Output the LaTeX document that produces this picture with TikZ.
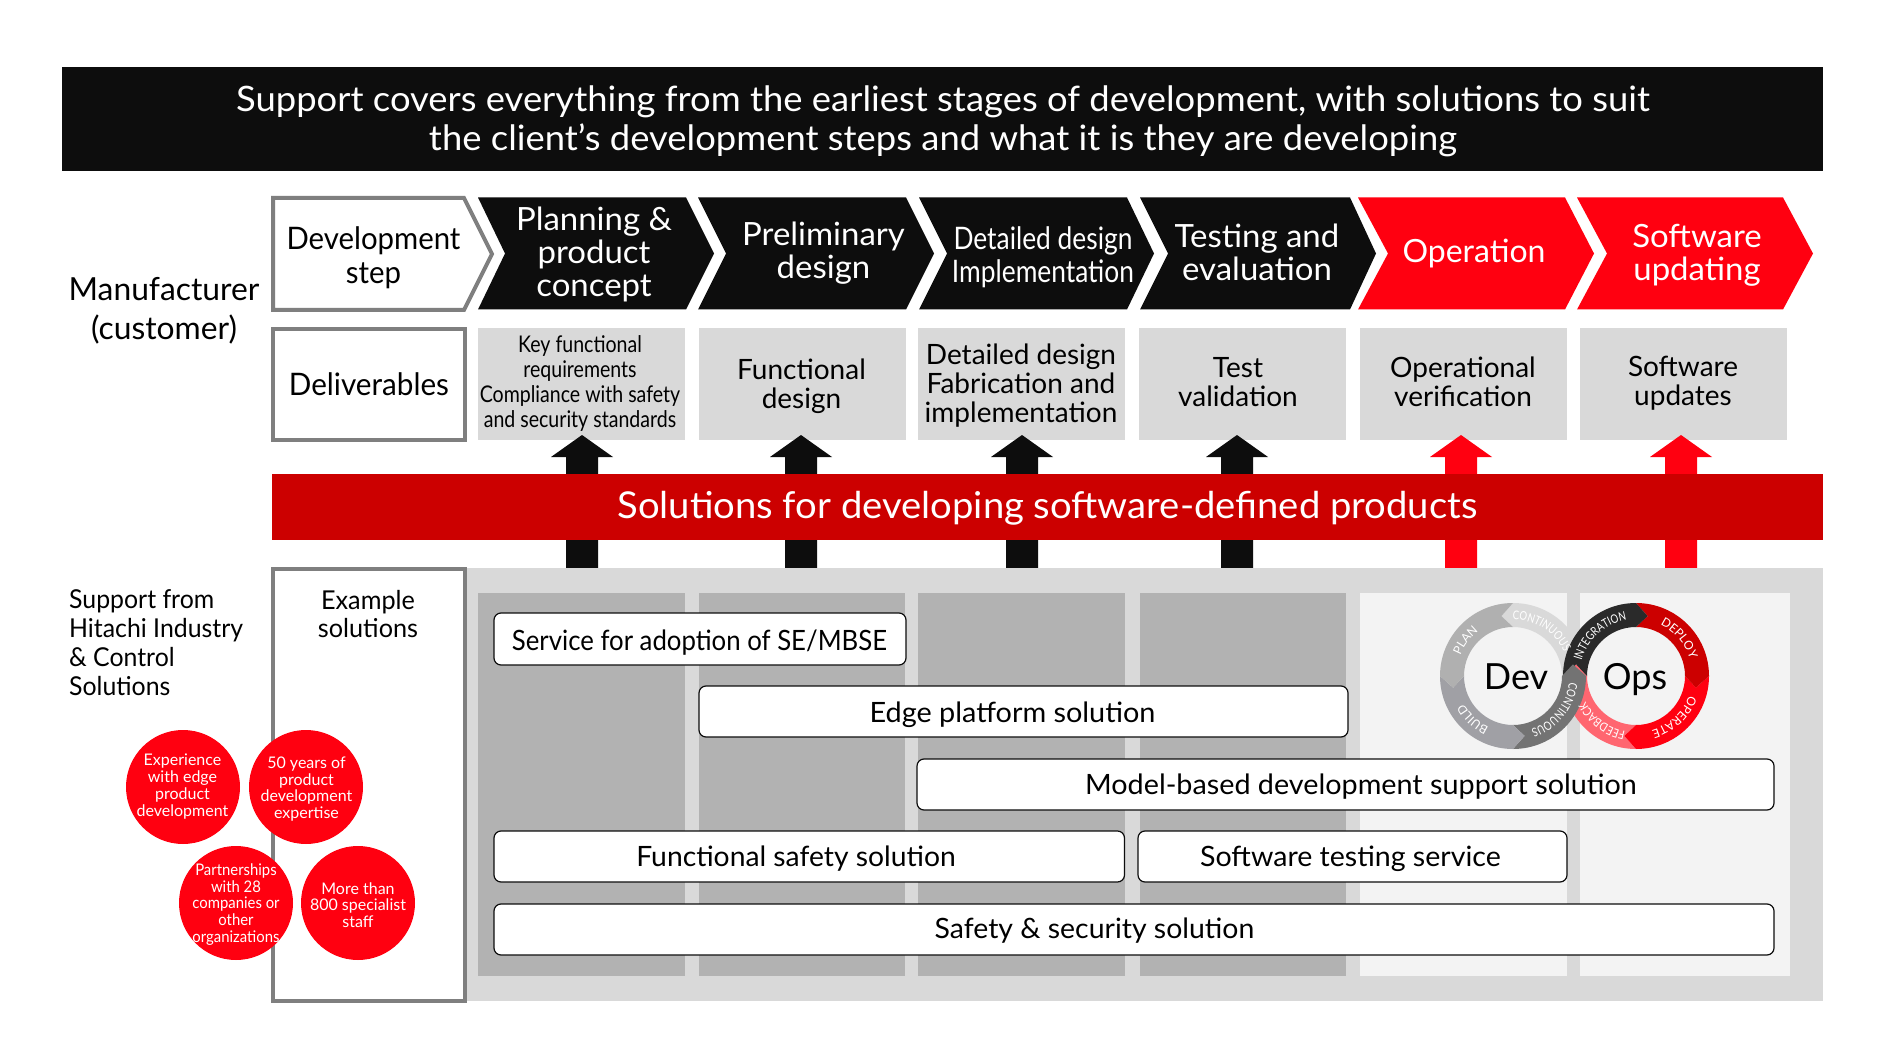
\documentclass[tikz,border=0pt]{standalone}
\usepackage{fontspec}
\usetikzlibrary{decorations.text,calc}
\setmainfont{Lato}
\definecolor{hred}{HTML}{FF0010}
\definecolor{dred}{HTML}{CC0000}
\definecolor{hblack}{HTML}{0D0D0D}
\definecolor{hgray}{HTML}{D9D9D9}
\definecolor{hdark}{HTML}{B2B2B2}
\definecolor{hlight}{HTML}{F3F3F3}
\definecolor{hedge}{HTML}{7F7F7F}
\definecolor{rfeed}{HTML}{FF6670}
\definecolor{rinteg}{HTML}{2A2A2A}
\definecolor{rcont}{HTML}{737373}
\definecolor{rbuild}{HTML}{A0A0A5}
\definecolor{rplan}{HTML}{B0B0B0}
\newcommand{\fs}[2]{\fontsize{#1}{#2}\selectfont}
\newcommand{\fx}[3]{\addfontfeature{FakeStretch=#1}\fontsize{#2}{#3}\selectfont}
\newcommand{\ringseg}[6]{% cx cy a b delta colour
  \fill[#6] ($(#1,#2)+(#3:73)$) arc[start angle=#3,end angle=#4,radius=73]
    -- ($(#1,#2)+({#4+#5}:61)$) -- ($(#1,#2)+(#4:49)$)
    arc[start angle=#4,end angle=#3,radius=49]
    -- ($(#1,#2)+({#3+#5}:61)$) -- cycle;}
\newcommand{\ringtext}[5]{% cx cy centre stretch text
  \path[decorate,decoration={text along path,text align=center,
    text={|\fx{#4}{12}{13}\color{white}|#5}}]
    ($(#1,#2)+({#3+50}:56.5)$) arc[start angle={#3+50},end angle={#3-50},radius=56.5];}
\tikzset{
  x=1pt,y=1pt,
  chevtext/.style={align=center,text=white,font=\fx{1.03}{32}{33},inner sep=0pt},
  delivbox/.style={fill=hgray,draw=none,minimum height=112pt,minimum width=207pt,inner sep=0pt},
  delivtext/.style={align=center,text=black,font=\fs{28}{29},inner sep=0pt},
  soltext/.style={inner sep=0pt,text=black},
  framebox/.style={draw=hedge,line width=4pt,fill=white,align=center},
  badge/.style={circle,fill=hred,minimum size=114pt,inner sep=0pt},
  badgetext/.style={text=white,align=center,inner sep=0pt,font=\fs{16}{16.8}},
}
\newcommand{\solbox}[4]{\draw[draw=hblack,line width=1.2pt,fill=white,rounded corners=7pt] (#1,-#3) rectangle (#2,-#4);}
\newcommand{\chev}[5]{% left notchtip shoulder tip colour
  \path[fill=#5] (#1,-197.5) -- (#3,-197.5) -- (#4,-253.5) -- (#3,-309.5) -- (#1,-309.5) -- (#2,-253.5) -- cycle;}
\newcommand{\blockarrow}[2]{% x colour
  \fill[#2] ({#1-16},-568) -- ({#1-16},-457) -- ({#1-31},-457) -- (#1,-435) -- ({#1+31},-457) -- ({#1+16},-457) -- ({#1+16},-568) -- cycle;}
\begin{document}
\begin{tikzpicture}
\useasboundingbox (0,0) rectangle (1890,-1064);
\fill[white] (0,0) rectangle (1890,-1064);
% banner
\fill[hblack] (62,-67) rectangle (1823,-171.5);
\node[text=white,align=center,font=\fx{1.04}{35}{39},inner sep=0pt] (banner) at (943,-121)
  {Support covers everything from the earliest stages of development, with solutions to suit\\the client’s development steps and what it is they are developing};
% chevrons
\draw[framebox] (273,-198) -- (464,-198) -- (492,-254) -- (464,-310) -- (273,-310) -- cycle;
\node[align=center,font=\fx{0.947}{31}{34},inner sep=0pt] (devstep) at (373.5,-257.4) {Development\\step};
\chev{478}{505}{686}{714}{hblack}
\chev{698}{726}{906}{934}{hblack}
\chev{919}{947}{1127}{1154}{hblack}
\chev{1140}{1168}{1350}{1376}{hblack}
\chev{1358}{1388}{1565}{1594}{hred}
\chev{1577}{1607}{1783}{1813}{hred}
\node[chevtext] (t1) at (594,-254) {Planning \&\\product\\concept};
\node[chevtext] (t2) at (823.5,-253) {Preliminary\\design};
\node[chevtext,font=\fx{0.85}{31}{33}] (t3) at (1043,-257) {Detailed design\\Implementation};
\node[chevtext] (t4) at (1257,-252.6) {Testing and\\evaluation};
\node[chevtext,font=\fx{1.0}{32}{33}] (t5) at (1474,-254) {Operation};
\node[chevtext] (t6) at (1697,-255.4) {Software\\updating};
% manufacturer
\node[align=center,font=\fs{31.8}{38.5},inner sep=0pt] (mfr) at (164,-311) {Manufacturer\\(customer)};
% deliverables
\draw[framebox] (273,-329) rectangle (465,-440);
\node[font=\fx{0.957}{31}{33},inner sep=0pt] (dv) at (369,-384) {Deliverables};
\node[delivbox] (d1) at (581.5,-384) {};
\node[delivtext,font=\fx{0.85}{23}{25}] (d1t) at (580,-384) {Key functional\\requirements\\Compliance with safety\\and security standards};
\node[delivbox] (d2) at (802,-384) {};
\node[delivtext] (d2t) at (801.5,-386.5) {Functional\\design};
\node[delivbox] (d3) at (1021.5,-384) {};
\node[delivtext] (d3t) at (1021,-385.5) {Detailed design\\Fabrication and\\implementation};
\node[delivbox] (d4) at (1242.5,-384) {};
\node[delivtext] (d4t) at (1238,-382) {Test\\validation};
\node[delivbox] (d5) at (1463,-384) {};
\node[delivtext] (d5t) at (1463,-382) {Operational\\verification};
\node[delivbox] (d6) at (1683,-384) {};
\node[delivtext] (d6t) at (1683,-383) {Software\\updates};
% arrows
\blockarrow{582}{hblack}
\blockarrow{801}{hblack}
\blockarrow{1022}{hblack}
\blockarrow{1237}{hblack}
\blockarrow{1461}{hred}
\blockarrow{1681}{hred}
% band
\fill[dred] (272,-473.5) rectangle (1823,-540);
\node[text=white,font=\fx{1.033}{37}{40},inner sep=0pt] (band) at (1047.5,-508.7) {Solutions for developing software-defined products};
% lower panel
\fill[hgray] (467,-568) rectangle (1823,-1001);
\foreach \x/\c/\w in {478/hdark/207,699/hdark/206,918/hdark/207,1140/hdark/206,1360/hlight/207,1580/hlight/210}
  \fill[\c] (\x,-593) rectangle (\x+\w,-976);
\draw[framebox] (273,-569) rectangle (465,-1001);
\node[align=center,font=\fx{0.97}{26}{28.5},inner sep=0pt] (ex) at (368,-614) {Example\\solutions};
\node[align=left,font=\fx{0.955}{26}{29},anchor=north west,inner sep=0pt] (sup) at (69,-589.5) {Support from\\Hitachi Industry\\\& Control\\Solutions};
% badges
\node[badge] (b1) at (183,-787) {};
\node[badgetext] (b1t) at (182.5,-786.5) {Experience\\with edge\\product\\development};
\node[badge] (b2) at (306,-787) {};
\node[badgetext] (b2t) at (306.5,-789) {50 years of\\product\\development\\expertise};
\node[badge] (b3) at (236,-903) {};
\node[badgetext,font=\fx{0.93}{16}{16.8}] (b3t) at (236,-904.5) {Partnerships\\with 28\\companies or\\other\\organizations};
\node[badge] (b4) at (358,-903) {};
\node[badgetext] (b4t) at (358,-905) {More than\\800 specialist\\staff};
% solution boxes
\solbox{494}{906}{613}{665}
\solbox{699}{1348}{686}{737}
\solbox{917}{1774}{759}{810}
\solbox{494}{1124.5}{831}{882}
\solbox{1138}{1567}{831}{882}
\solbox{494}{1774}{904}{955}
\node[soltext,font=\fx{0.92}{28}{30}] (s1) at (699.5,-642.4) {Service for adoption of SE/MBSE};
\node[soltext,font=\fx{1.03}{28}{30}] (s2) at (1012.5,-714.4) {Edge platform solution};
\node[soltext,font=\fx{1.027}{28}{30}] (s3) at (1361,-786.4) {Model-based development support solution};
\node[soltext,font=\fx{1.01}{28}{30}] (s4) at (796,-858.4) {Functional safety solution};
\node[soltext,font=\fx{1.02}{28}{30}] (s5) at (1350.5,-858.4) {Software testing service};
\node[soltext,font=\fx{1.015}{28}{30}] (s6) at (1094.5,-930.4) {Safety \& security solution};
% devops
\ringseg{1513}{-676}{0}{90}{11}{hgray}
\ringseg{1636}{-676}{270}{180}{-11}{rfeed}
\ringseg{1636}{-676}{360}{270}{-11}{hred}
\ringseg{1636}{-676}{90}{0}{-11}{dred}
\ringseg{1636}{-676}{180}{90}{-11}{rinteg}
\ringseg{1513}{-676}{270}{360}{11}{rcont}
\ringseg{1513}{-676}{180}{270}{11}{rbuild}
\ringseg{1513}{-676}{90}{180}{11}{rplan}
\ringtext{1513}{-676}{143}{1.0}{PLAN}
\ringtext{1513}{-676}{58}{0.8}{CONTINUOUS}
\ringtext{1513}{-676}{227}{1.0}{BUILD}
\ringtext{1513}{-676}{321}{0.8}{CONTINUOUS}
\ringtext{1636}{-676}{132}{0.8}{INTEGRATION}
\ringtext{1636}{-676}{41}{1.0}{DEPLOY}
\ringtext{1636}{-676}{313}{1.0}{OPERATE}
\ringtext{1636}{-676}{233}{0.84}{FEEDBACK}
\node[font=\fs{36}{38},inner sep=0pt,anchor=base] (dev) at (1516,-689) {Dev};
\node[font=\fs{36}{38},inner sep=0pt,anchor=base] (ops) at (1635,-689) {Ops};
\end{tikzpicture}
\end{document}
